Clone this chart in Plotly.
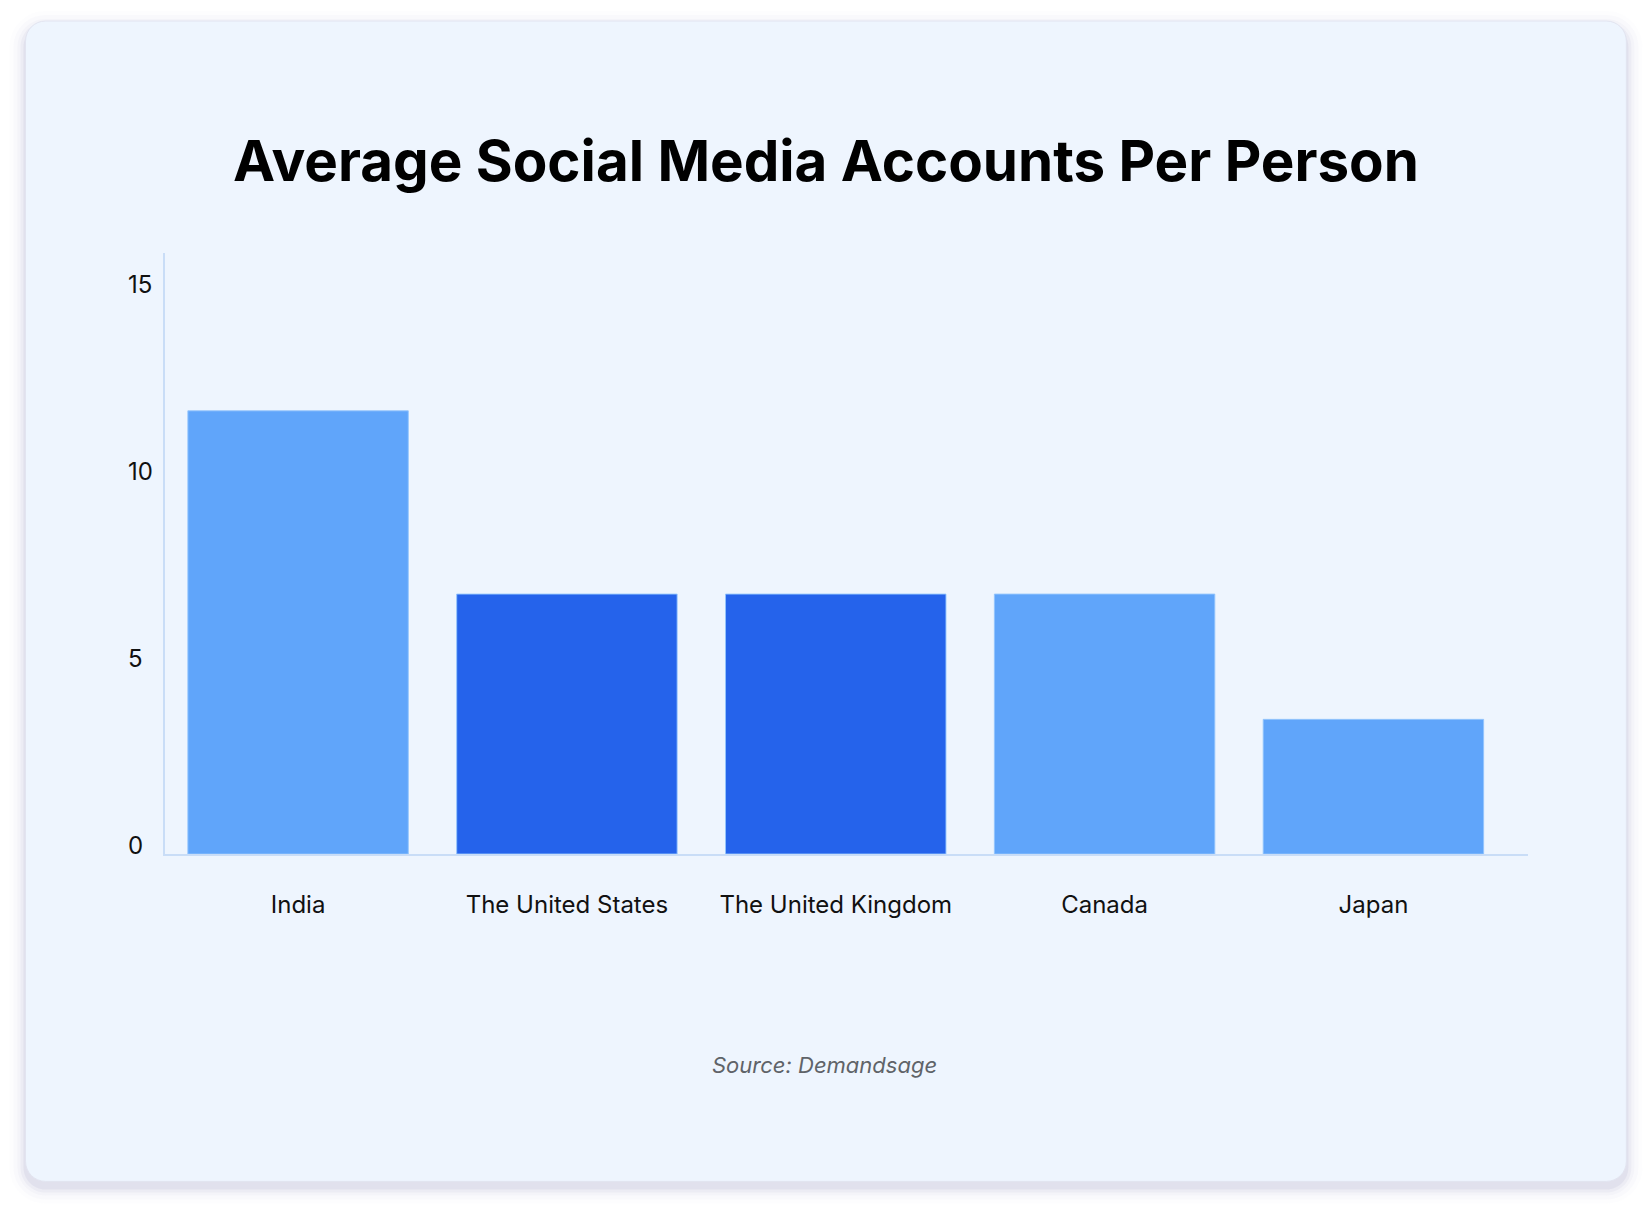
import plotly.graph_objects as go

countries = ["India", "The United States", "The United Kingdom", "Canada", "Japan"]
accounts = [11.85, 6.95, 6.95, 6.95, 3.6]
bar_colors = ["#60A5FA", "#2563EB", "#2563EB", "#60A5FA", "#60A5FA"]
y_ticks = [0, 5, 10, 15]
title_text = "Average Social Media Accounts Per Person"
source_text = "Source: Demandsage"

W, H = 1652, 1211
L, R = 165.4, 1527.7
T, B = 252.9, 853.7


def px_x(px):
    return (px - L) / (R - L)


def px_y(py):
    return (B - py) / (B - T)


def rounded_rect(x0, y0, x1, y1, r):
    k = 0.5523 * r

    def P(x, y):
        return f"{px_x(x):.5f},{px_y(y):.5f}"
    d = (f"M {P(x0 + r, y0)} L {P(x1 - r, y0)} "
         f"C {P(x1 - r + k, y0)} {P(x1, y0 + r - k)} {P(x1, y0 + r)} "
         f"L {P(x1, y1 - r)} "
         f"C {P(x1, y1 - r + k)} {P(x1 - r + k, y1)} {P(x1 - r, y1)} "
         f"L {P(x0 + r, y1)} "
         f"C {P(x0 + r - k, y1)} {P(x0, y1 - r + k)} {P(x0, y1 - r)} "
         f"L {P(x0, y0 + r)} "
         f"C {P(x0, y0 + r - k)} {P(x0 + r - k, y0)} {P(x0 + r, y0)} Z")
    return d


shapes = []
for grow, op in [(16, 0.02), (12, 0.035), (8, 0.05), (5, 0.08), (2, 0.12)]:
    shapes.append(dict(
        type="path", xref="paper", yref="paper", layer="below",
        path=rounded_rect(26 - grow, 21 - grow + 6, 1626 + grow, 1181 + grow + 6, 20 + grow),
        fillcolor=f"rgba(150,150,190,{op})", line=dict(width=0),
    ))
shapes.append(dict(
    type="path", xref="paper", yref="paper", layer="below",
    path=rounded_rect(26, 21, 1626, 1181, 20),
    fillcolor="#EEF5FE", line=dict(color="#E2E4F0", width=1),
))

fig = go.Figure(go.Bar(
    x=countries, y=accounts,
    marker=dict(color=bar_colors, line=dict(color="rgba(147,197,253,0.9)", width=1)),
    width=0.82,
    hoverinfo="x+y",
))

# left-aligned y tick labels, drawn as text at each tick value
annotations = [dict(
    text=str(v), xref="paper", yref="y",
    x=px_x(126.5), y=v, xanchor="left", yanchor="middle",
    yshift=8.4, showarrow=False,
    font=dict(family="Inter, sans-serif", size=24, color="#111111"),
) for v in y_ticks]

annotations.append(dict(
    text=f"<i>{source_text}</i>",
    xref="paper", yref="paper",
    x=px_x(825), y=px_y(1065), xanchor="center", yanchor="middle",
    showarrow=False,
    font=dict(family="Inter, sans-serif", size=22, color="#5F6368"),
))

fig.update_layout(
    width=W, height=H,
    margin=dict(l=L, r=W - R, t=T, b=H - B, autoexpand=False),
    paper_bgcolor="white",
    plot_bgcolor="rgba(0,0,0,0)",
    showlegend=False,
    shapes=shapes,
    font=dict(family="Inter, Roboto, sans-serif", color="#111111", size=24),
    title=dict(
        text=f"<b>{title_text}</b>",
        xref="container", yref="container", x=0.5, y=1 - 161 / H,
        xanchor="center", yanchor="middle",
        font=dict(family="Inter, sans-serif", size=56.5, color="#000000"),
    ),
    xaxis=dict(
        range=[-0.495, 4.575],
        showline=True, linecolor="#C9DDF7", linewidth=1.5,
        showgrid=False, zeroline=False,
        ticks="", ticklabelstandoff=28,
        tickfont=dict(size=24, color="#111111"),
        fixedrange=True,
    ),
    yaxis=dict(
        range=[0, 16.07],
        tickvals=y_ticks,
        showticklabels=False,
        showline=True, linecolor="#C9DDF7", linewidth=1.5,
        showgrid=False, zeroline=False,
        ticks="",
        fixedrange=True,
    ),
    annotations=annotations,
)

fig.write_html("out.html")
